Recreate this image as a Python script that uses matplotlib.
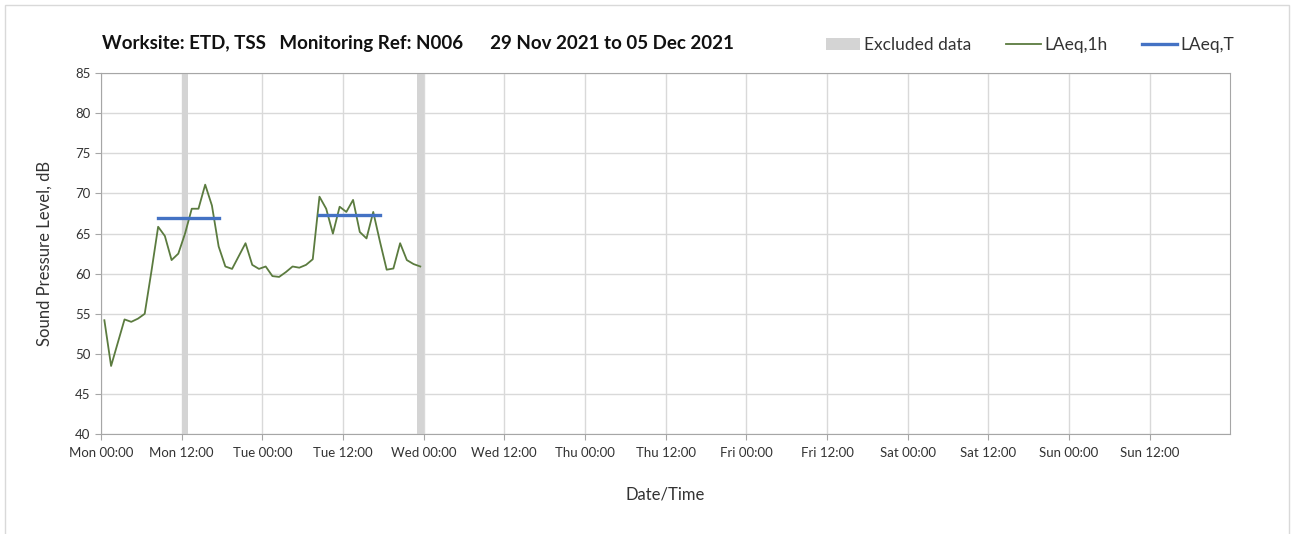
import matplotlib
matplotlib.use("Agg")
import matplotlib.pyplot as plt
from matplotlib.patches import Patch, Rectangle
from matplotlib.lines import Line2D

plt.rcParams['font.family'] = ['Lato', 'DejaVu Sans']

# hourly LAeq,1h values, Mon 00:00 onwards (hours since start)
hours = list(range(48))
laeq_1h = [54.2, 48.5, 51.4, 54.3, 54.0, 54.4, 55.0, 60.3, 65.85, 64.7,
           61.7, 62.5, 65.0, 68.1, 68.1, 71.1, 68.5, 63.4, 60.9, 60.6,
           62.2, 63.8, 61.1, 60.6, 60.9, 59.7, 59.6, 60.2, 60.9, 60.75,
           61.1, 61.8, 69.6, 68.1, 65.0, 68.35, 67.7, 69.2, 65.2, 64.4,
           67.7, 64.0, 60.5, 60.65, 63.8, 61.7, 61.2, 60.9]

# LAeq,T periods: (start hour, end hour, level)
laeq_t_start = [8.5, 32.5]
laeq_t_end = [17.5, 41.5]
laeq_t = [67.0, 67.3]

# excluded data periods (hours)
excl_start = [12, 47]
excl_end = [13, 48]

tick_hours = list(range(0, 168, 12))
tick_labels = ['Mon 00:00', 'Mon 12:00', 'Tue 00:00', 'Tue 12:00', 'Wed 00:00',
               'Wed 12:00', 'Thu 00:00', 'Thu 12:00', 'Fri 00:00', 'Fri 12:00',
               'Sat 00:00', 'Sat 12:00', 'Sun 00:00', 'Sun 12:00']

green = '#5B7B3F'
blue = '#4472C4'
grey = '#D4D4D4'

fig = plt.figure(figsize=(12.95, 5.34), dpi=100)
fig.patches.append(Rectangle((0.004, -0.1), 0.991, 1.09, transform=fig.transFigure,
                             fill=False, edgecolor='#D9D9D9', linewidth=1))
ax = fig.add_axes([0.078, 0.187, 0.872, 0.676])

for s, e in zip(excl_start, excl_end):
    ax.axvspan(s, e, color=grey, linewidth=0, zorder=2)

ax.plot([h + 0.5 for h in hours], laeq_1h, color=green, linewidth=1.3, zorder=3)
for s, e, v in zip(laeq_t_start, laeq_t_end, laeq_t):
    ax.plot([s, e], [v, v], color=blue, linewidth=2.4, zorder=4)

ax.set_xlim(0, 168)
ax.set_ylim(40, 85)
ax.set_yticks(range(40, 86, 5))
ax.set_xticks(tick_hours)
ax.set_xticklabels(tick_labels)
ax.tick_params(axis='both', labelsize=9.5, colors='#333333', length=4, color='#A6A6A6')
ax.tick_params(axis='x', pad=5)
ax.grid(True, color='#D9D9D9', linewidth=1, zorder=0)
ax.set_axisbelow(True)
for sp in ax.spines.values():
    sp.set_color('#A6A6A6')

ax.set_ylabel('Sound Pressure Level, dB', fontsize=12, color='#333333', labelpad=16)
ax.set_xlabel('Date/Time', fontsize=12, color='#333333', labelpad=20)

fig.text(0.079, 0.918, 'Worksite: ETD, TSS   Monitoring Ref: N006      29 Nov 2021 to 05 Dec 2021',
         fontsize=13.5, fontweight='bold', color='#111111', va='center')

handles = [Patch(facecolor=grey, edgecolor='none'),
           Line2D([0], [0], color=green, linewidth=1.3),
           Line2D([0], [0], color=blue, linewidth=2.4)]
fig.legend(handles, ['Excluded data', 'LAeq,1h', 'LAeq,T'], loc='center right',
           bbox_to_anchor=(0.965, 0.915), ncol=3, frameon=False, fontsize=12.5,
           handlelength=2.0, handletextpad=0.2, columnspacing=2.0, labelcolor='#333333')

fig.savefig('out.png', dpi=100)
